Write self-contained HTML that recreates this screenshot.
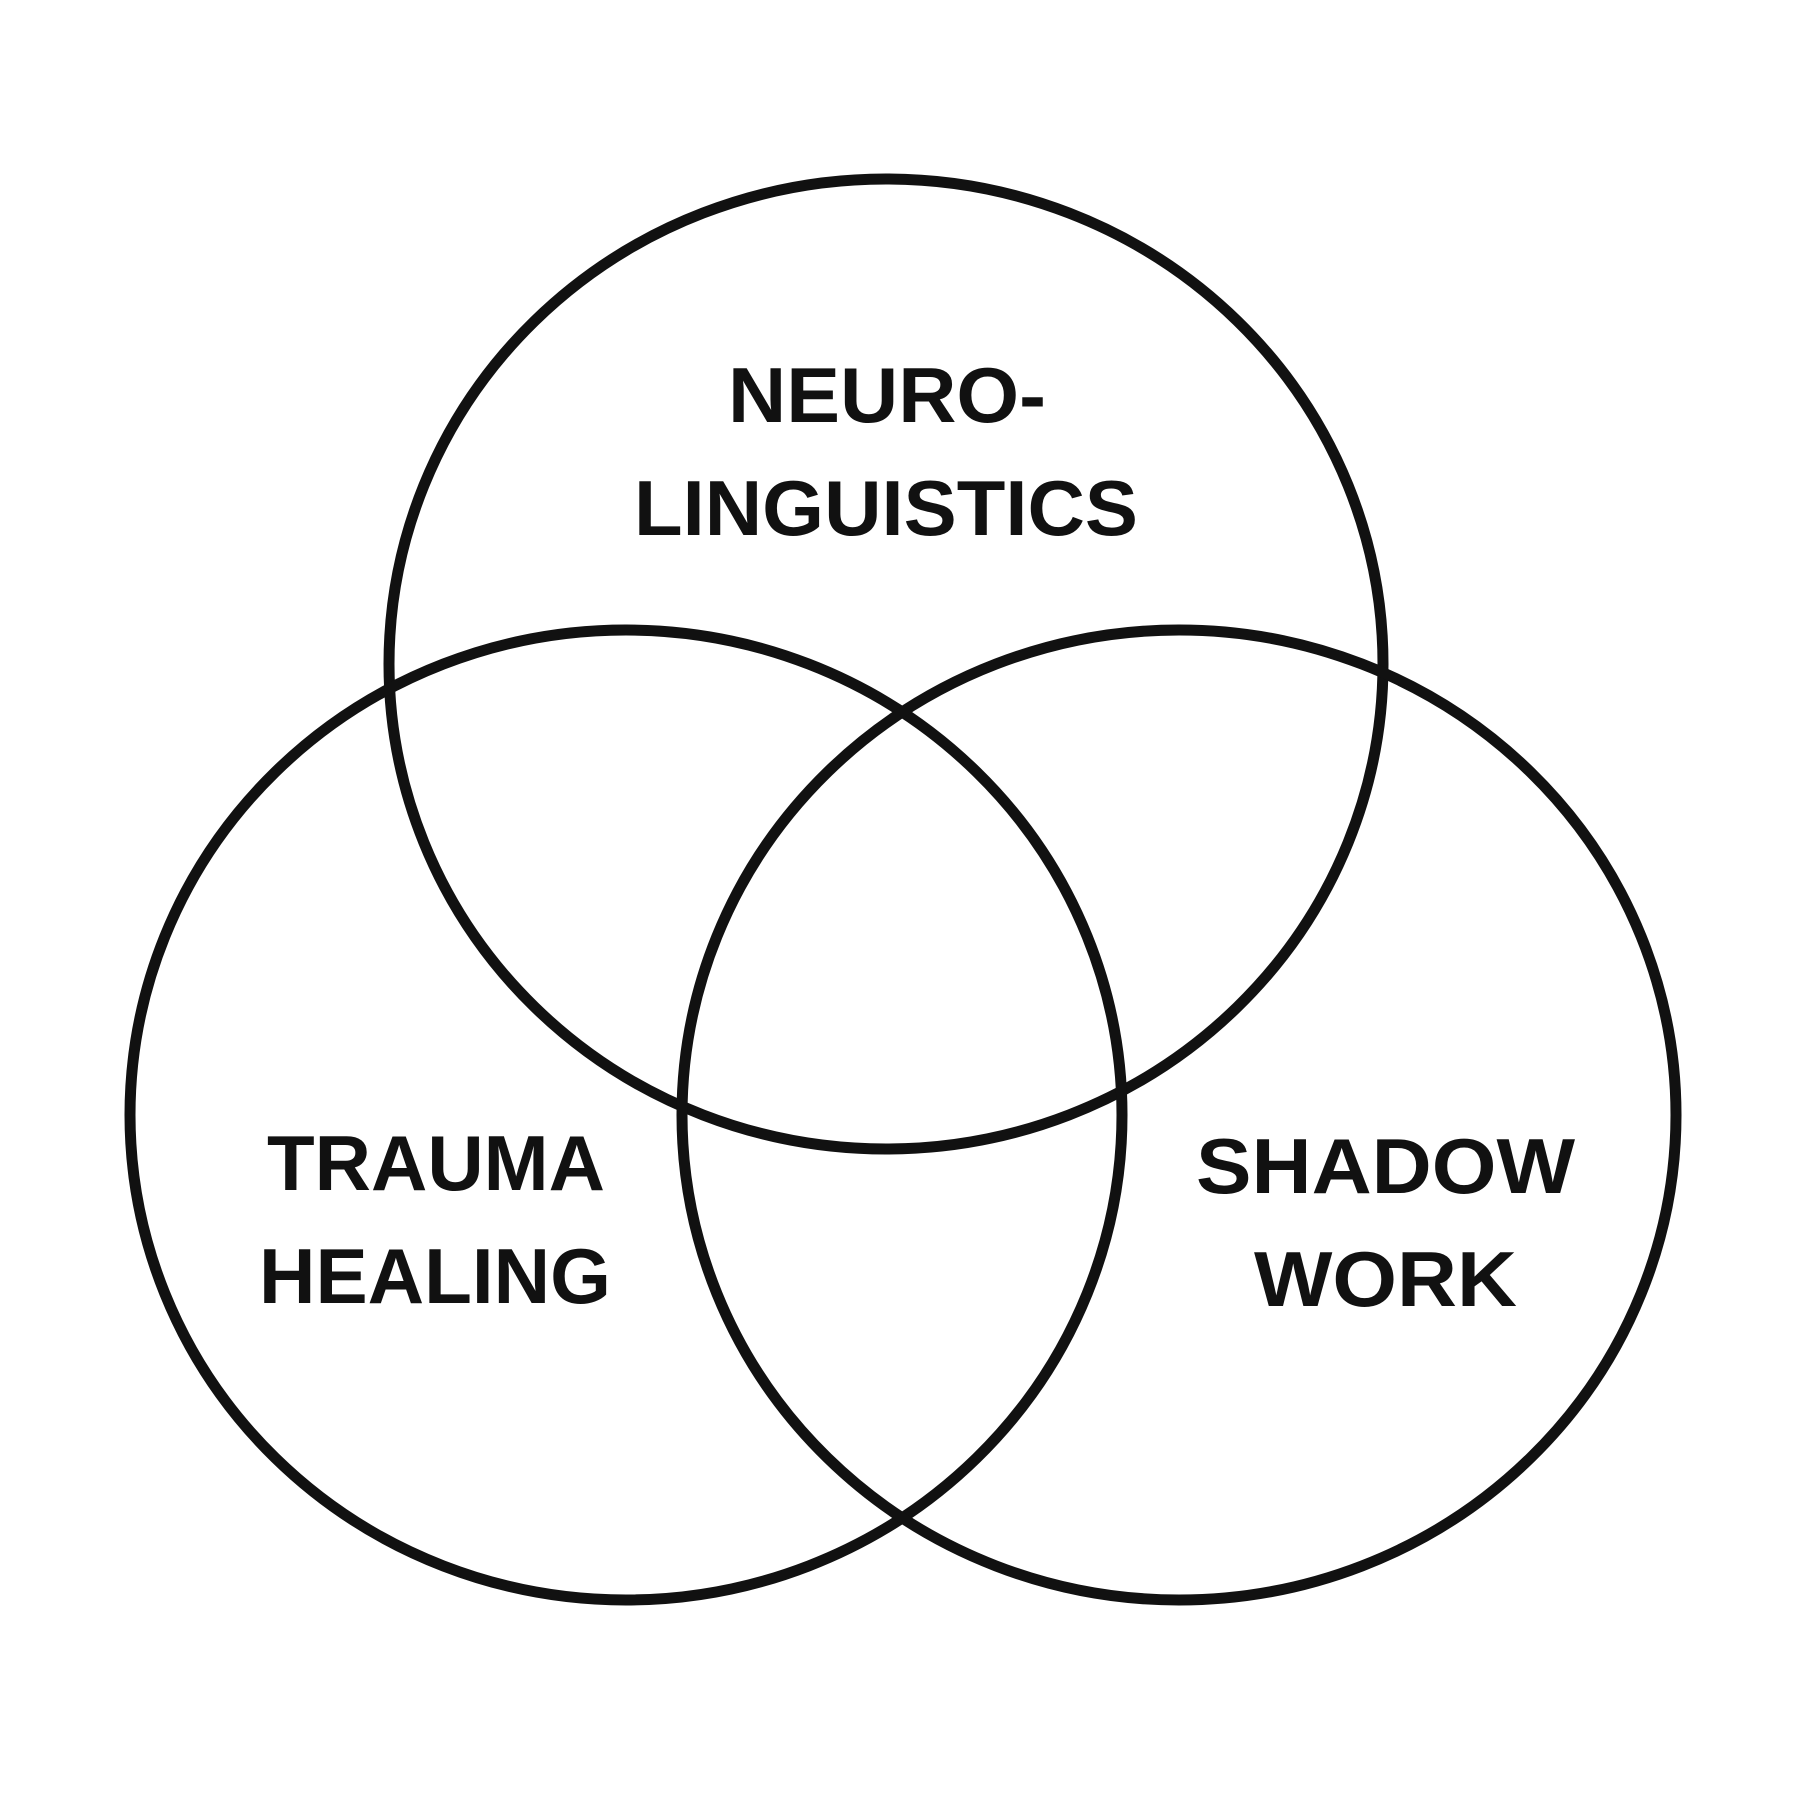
<!DOCTYPE html>
<html><head><style>html,body{margin:0;padding:0;background:#fff}</style></head>
<body>
<svg width="1806" height="1807" viewBox="0 0 1806 1807" xmlns="http://www.w3.org/2000/svg">
<rect width="1806" height="1807" fill="#fff"/>
<g fill="none" stroke="#111" stroke-width="11">
<ellipse cx="886" cy="664" rx="497" ry="485"/>
<ellipse cx="626" cy="1115" rx="496" ry="485"/>
<ellipse cx="1179" cy="1115" rx="497" ry="485"/>
</g>
<g font-family="Liberation Sans, sans-serif" font-weight="bold" font-size="78" fill="#111">
<text x="728" y="422" textLength="318" lengthAdjust="spacingAndGlyphs">NEURO-</text>
<text x="634" y="535" textLength="504" lengthAdjust="spacingAndGlyphs">LINGUISTICS</text>
<text x="267" y="1190" textLength="338" lengthAdjust="spacingAndGlyphs">TRAUMA</text>
<text x="259" y="1303" textLength="352" lengthAdjust="spacingAndGlyphs">HEALING</text>
<text x="1196" y="1193" textLength="379" lengthAdjust="spacingAndGlyphs">SHADOW</text>
<text x="1254" y="1306" textLength="263" lengthAdjust="spacingAndGlyphs">WORK</text>
</g>
</svg>
</body></html>
